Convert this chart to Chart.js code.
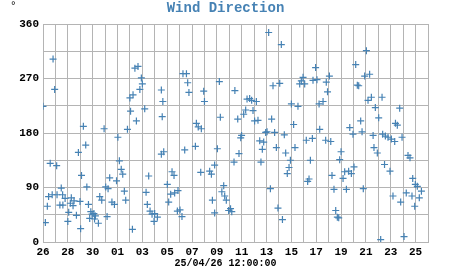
<!DOCTYPE html>
<html>
<head>
<meta charset="utf-8">
<script src="https://cdn.jsdelivr.net/npm/chart.js@4.4.1/dist/chart.umd.min.js"></script>
<style>
body { margin: 0; background: #fff; }
</style>
</head>
<body>
<canvas id="windChart" width="451" height="275"></canvas>
<script>
// Donnees (jours depuis le 26/03, direction en degres)
const chartTitle = 'Wind Direction';
const dateLabel = '25/04/26 12:00:00';
const unitLabel = '°';

const dayNames = ['26','27','28','29','30','31',
  '01','02','03','04','05','06','07','08','09','10','11','12','13',
  '14','15','16','17','18','19','20','21','22','23','24','25','26'];

const yTickValues = [0, 90, 180, 270, 360];

const days = [
  0.0, 0.19, 0.35, 0.45, 0.58, 0.74, 0.81, 0.94, 1.1, 1.13,
  1.36, 1.47, 1.58, 1.6, 1.78, 2.0, 2.07, 2.2, 2.28, 2.42,
  2.5, 2.69, 2.85, 2.98, 3.03, 3.1, 3.25, 3.44, 3.53, 3.66,
  3.76, 3.85, 3.95, 4.1, 4.15, 4.22, 4.46, 4.57, 4.73, 4.92,
  5.05, 5.16, 5.24, 5.37, 5.55, 5.75, 5.92, 6.03, 6.15, 6.3,
  6.42, 6.55, 6.66, 6.8, 7.0, 7.05, 7.2, 7.25, 7.4, 7.52,
  7.65, 7.8, 7.92, 8.0, 8.19, 8.3, 8.4, 8.51, 8.62, 8.78,
  8.94, 8.99, 9.21, 9.53, 9.53, 9.6, 9.65, 9.72, 10.01, 10.12,
  10.28, 10.39, 10.55, 10.6, 10.82, 10.87, 11.03, 11.19, 11.27, 11.41,
  11.55, 11.65, 11.75, 12.27, 12.35, 12.5, 12.7, 12.75, 12.94, 13.0,
  13.42, 13.56, 13.64, 13.82, 13.82, 14.04, 14.2, 14.28, 14.4, 14.55,
  14.63, 14.76, 14.95, 15.1, 15.2, 15.38, 15.45, 15.68, 15.78, 15.92,
  15.99, 16.16, 16.32, 16.43, 16.64, 16.8, 16.91, 17.04, 17.18, 17.31,
  17.45, 17.55, 17.66, 17.77, 17.93, 18.04, 18.17, 18.31, 18.41, 18.52,
  18.65, 18.79, 18.92, 19.06, 19.19, 19.28, 19.43, 19.54, 19.67, 19.81,
  19.92, 20.0, 20.18, 20.29, 20.53, 20.67, 20.8, 20.94, 21.07, 21.2,
  21.31, 21.42, 21.53, 21.69, 21.74, 21.95, 22.06, 22.23, 22.28, 22.55,
  22.76, 22.81, 22.91, 23.06, 23.17, 23.27, 23.43, 23.57, 23.7, 23.81,
  23.89, 24.0, 24.16, 24.29, 24.43, 24.61, 24.7, 24.83, 24.96, 25.04,
  25.18, 25.31, 25.42, 25.58, 25.69, 25.79, 25.9, 26.04, 26.17, 26.3,
  26.44, 26.58, 26.65, 26.76, 26.92, 27.03, 27.19, 27.3, 27.35, 27.5,
  27.57, 27.78, 27.94, 28.05, 28.18, 28.32, 28.38, 28.53, 28.72, 28.8,
  28.91, 29.07, 29.25, 29.39, 29.55, 29.71, 29.77, 29.93, 29.98, 30.14,
  30.3, 30.47
];

const directions = [
  224, 32, 59, 75, 130, 78, 302, 252, 126, 78,
  61, 89, 78, 61, 72, 34, 49, 64, 73, 60,
  68, 44, 148, 67, 22, 110, 191, 160, 91, 62,
  39, 50, 46, 47, 38, 43, 31, 75, 69, 187,
  91, 42, 88, 106, 66, 62, 101, 173, 134, 120,
  112, 84, 69, 186, 238, 216, 21, 243, 287, 200,
  290, 252, 271, 261, 220, 82, 62, 109, 51, 46,
  34, 47, 41, 251, 145, 207, 232, 149, 95, 66,
  79, 116, 110, 81, 51, 85, 53, 42, 278, 152,
  278, 263, 247, 158, 196, 190, 115, 187, 249, 232,
  117, 112, 69, 127, 48, 154, 265, 206, 83, 93,
  76, 69, 52, 55, 50, 132, 250, 203, 146, 172,
  176, 211, 218, 236, 237, 234, 217, 200, 232, 201,
  167, 132, 153, 165, 181, 182, 346, 88, 203, 258,
  181, 156, 56, 262, 326, 37, 177, 147, 113, 123,
  135, 228, 194, 156, 224, 261, 266, 272, 261, 168,
  100, 104, 135, 171, 267, 288, 268, 228, 186, 232,
  168, 264, 248, 274, 166, 110, 87, 52, 41, 40,
  136, 149, 105, 116, 87, 117, 189, 113, 178, 124,
  293, 259, 258, 200, 182, 88, 274, 316, 234, 277,
  239, 176, 156, 222, 147, 205, 4, 239, 178, 128,
  175, 173, 117, 170, 76, 166, 196, 193, 221, 66,
  173, 9, 81, 143, 139, 76, 105, 59, 95, 92,
  73, 84
];

const points = days.map((d, i) => ({ x: d, y: directions[i] }));

const blue = '#4682b4';
const gridColor = '#b4b4b4';
const monoFont = '"Liberation Mono", "DejaVu Sans Mono", monospace';

// Titre, date et unite dessines au centre du canvas
const chartLabels = {
    id: 'chartLabels',
    afterDraw(chart) {
        const c = chart.ctx;
        const mid = chart.width / 2;
        c.save();
        c.textAlign = 'center';
        c.textBaseline = 'middle';
        c.fillStyle = blue;
        c.font = 'bold 14px ' + monoFont;
        c.fillText(chartTitle, mid, 8);
        c.fillStyle = '#000';
        c.font = 'bold 10px ' + monoFont;
        c.fillText(dateLabel, mid, 263);
        c.font = '11px ' + monoFont;
        c.textAlign = 'left';
        c.textBaseline = 'top';
        c.fillText(unitLabel, 10, 1);
        c.restore();
    }
};

const ctx = document.getElementById('windChart');

new Chart(ctx, {
    type: 'scatter',
    data: {
        datasets: [{
            label: chartTitle,
            data: points,
            pointStyle: 'cross',
            pointRadius: 3.5,
            pointBorderWidth: 1.2,
            borderColor: blue,
            backgroundColor: blue
        }]
    },
    options: {
        responsive: false,
        animation: false,
        devicePixelRatio: 1,
        layout: {
            padding: { top: 24, right: 23, left: 0, bottom: 0 }
        },
        plugins: {
            legend: { display: false },
            title: { display: false },
            tooltip: { enabled: false }
        },
        scales: {
            x: {
                type: 'linear',
                min: 0,
                max: 31,
                afterFit(scale) { scale.height = 33; },
                grid: { color: gridColor, drawTicks: false },
                border: { color: gridColor },
                ticks: {
                    stepSize: 1,
                    autoSkip: false,
                    maxRotation: 0,
                    padding: 4,
                    color: '#000',
                    font: { family: monoFont, size: 11, weight: 'bold' },
                    callback: (v) => (v % 2 === 0 ? dayNames[v] : '')
                }
            },
            y: {
                min: 0,
                max: 360,
                afterFit(scale) { scale.width = 43; },
                grid: { color: gridColor, drawTicks: false },
                border: { color: gridColor },
                ticks: {
                    stepSize: 45,
                    padding: 4,
                    color: '#000',
                    font: { family: monoFont, size: 11, weight: 'bold' },
                    callback: (v) => (yTickValues.includes(v) ? v : '')
                }
            }
        }
    },
    plugins: [chartLabels]
});
</script>
</body>
</html>
